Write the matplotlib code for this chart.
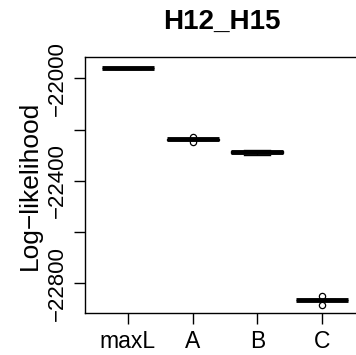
import matplotlib
matplotlib.use("Agg")
import matplotlib.pyplot as plt

plt.rcParams['font.family'] = ['Liberation Sans', 'DejaVu Sans']

categories = ["maxL", "A", "B", "C"]
maxL_vals = [-21962, -21961, -21961, -21960, -21961, -21960]
a_vals = [-22236, -22237, -22238, -22238, -22239, -22240, -22228, -22250]
b_vals = [-22278, -22283, -22286, -22288, -22290, -22293, -22298]
c_vals = [-22863, -22864, -22865, -22865, -22866, -22867, -22848, -22883]
yticks = [-22000, -22400, -22800]
yticks_minor = [-22200, -22600]

W, H = 356, 355
fig = plt.figure(figsize=(W / 100, H / 100), dpi=100)
# axes placed in pixel units; right side runs past the figure edge like the original
left, top, right, bottom = 85, 57, 365, 313
ax = fig.add_axes([left / W, 1 - bottom / H, (right - left) / W, (bottom - top) / H])

ax.boxplot([maxL_vals, a_vals, b_vals, c_vals], widths=0.8, patch_artist=True,
           boxprops=dict(facecolor="white", edgecolor="black", linewidth=1),
           medianprops=dict(color="black", linewidth=3.5, solid_capstyle="butt"),
           whiskerprops=dict(color="black", linewidth=1, linestyle="--"),
           capprops=dict(color="black", linewidth=1),
           flierprops=dict(marker="o", markersize=4.5, markerfacecolor="none",
                           markeredgecolor="black", markeredgewidth=0.9))

ax.set_xlim(0.34, 4.66)
ax.set_ylim(-22916, -21917)
ax.set_xticks(range(1, 5))
ax.set_xticklabels(categories, fontsize=16.5)
ax.set_yticks(yticks + yticks_minor)
ax.set_yticklabels([str(v).replace("-", "\u2212") for v in yticks] + ["", ""],
                   fontsize=16, rotation=90, va="center")
ax.tick_params(direction="out", length=8, width=1, pad=4)
for s in ax.spines.values():
    s.set_linewidth(1)
ax.set_ylabel("Log\u2212likelihood", fontsize=19, labelpad=4)
fig.text(222 / W, 1 - 22 / H, "H12_H15", fontsize=20, fontweight="bold",
         ha="center", va="center")

fig.savefig("out.png", dpi=100)
